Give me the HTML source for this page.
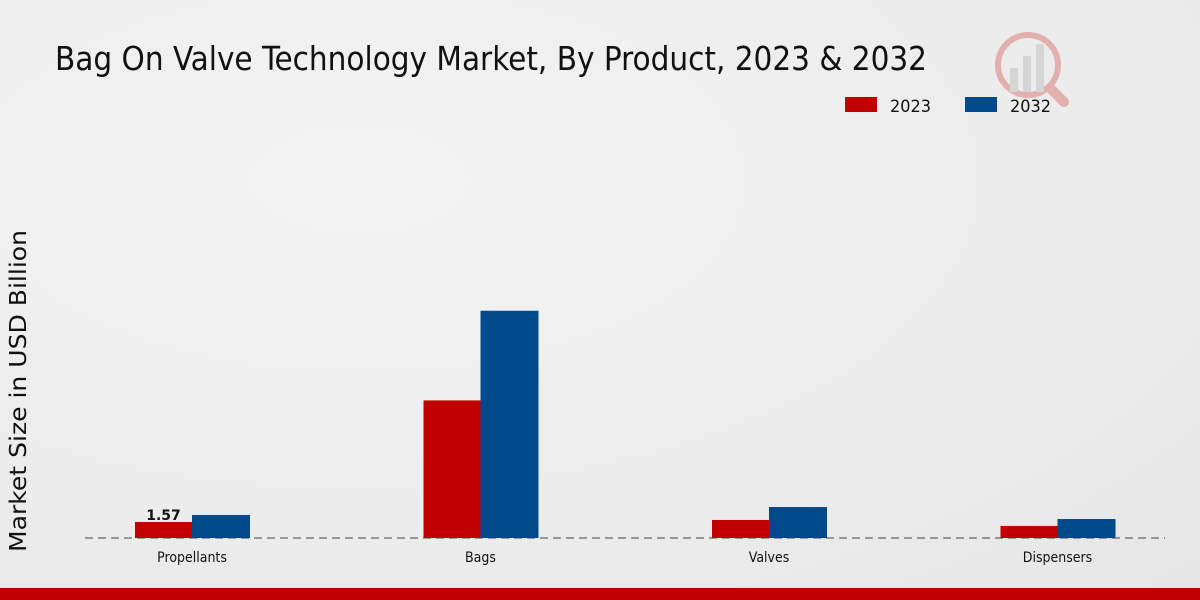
<!DOCTYPE html>
<html><head><meta charset="utf-8"><style>
body{margin:0;width:1200px;height:600px;overflow:hidden;font-family:"DejaVu Sans","Liberation Sans",sans-serif;}
#bg{position:absolute;left:0;top:0;width:1200px;height:600px;background:radial-gradient(ellipse at 30% 30%,#f4f4f4,#e6e6e6);}
</style></head><body>
<div id="bg"></div>
<svg id="c" width="1200" height="600" style="position:absolute;left:0;top:0">
<text x="55" y="70" font-size="33" font-family="'DejaVu Sans Condensed','Liberation Sans Narrow','Liberation Sans',sans-serif" fill="#111" textLength="872" lengthAdjust="spacingAndGlyphs">Bag On Valve Technology Market, By Product, 2023 &amp; 2032</text>
<g opacity="0.25">
<circle cx="1028" cy="65" r="30" fill="none" stroke="#c00" stroke-width="6"/>
<rect x="1010" y="68" width="8" height="24" fill="#999"/><rect x="1023" y="56" width="8" height="36" fill="#999"/><rect x="1036" y="44" width="8" height="48" fill="#999"/>
<line x1="1050" y1="88" x2="1064" y2="102" stroke="#c00" stroke-width="10" stroke-linecap="round"/>
</g>
<g>
<rect x="845" y="97" width="32" height="15" fill="#c00000"/>
<text x="890" y="112" font-size="17" fill="#111" textLength="41" lengthAdjust="spacingAndGlyphs">2023</text>
<rect x="965" y="97" width="32" height="15" fill="#004a8c"/>
<text x="1010" y="112" font-size="17" fill="#111" textLength="41" lengthAdjust="spacingAndGlyphs">2032</text>
</g>
<text transform="translate(26,391) rotate(-90)" text-anchor="middle" font-size="23" fill="#111" textLength="322" lengthAdjust="spacingAndGlyphs">Market Size in USD Billion</text>
<line x1="85" y1="538" x2="1165" y2="538" stroke="#444" stroke-dasharray="8,5"/>
<g id="bars"></g>
<rect x="0" y="588" width="1200" height="12" fill="#c00000"/>
</svg>
<script>
const categories=["Propellants","Bags","Valves","Dispensers"];
const values2023=[1.57,13.5,1.77,1.18];
const values2032=[2.26,22.3,3.04,1.86];
const labels2023=["1.57","","",""];
const NS="http://www.w3.org/2000/svg";
const g=document.getElementById("bars");
const base=538,pxPer=16/1.57,x0=192,step=288.5,bw=57;
const y=v=>base-v*pxPer;
const xc=i=>x0+i*step;
function mk(t,a){const e=document.createElementNS(NS,t);for(const k in a)e.setAttribute(k,a[k]);g.appendChild(e);return e;}
categories.forEach((c,i)=>{
 const r1=mk("rect",{x:xc(i)-bw,y:y(values2023[i]),width:bw,height:base-y(values2023[i]),fill:"#c00000"});
 
 
 const r2=mk("rect",{x:xc(i),y:y(values2032[i]),width:bw+1,height:base-y(values2032[i]),fill:"#004a8c"});
 
 
 const t=mk("text",{x:xc(i),y:562,"text-anchor":"middle","font-size":14,fill:"#111",transform:"translate("+xc(i)+",0) scale(0.9,1) translate("+(-xc(i))+",0)"});
 t.textContent=c;
 
 
 if(labels2023[i]){
  const l=mk("text",{x:xc(i)-bw/2,y:y(values2023[i])-2,"text-anchor":"middle","font-size":14,"font-weight":"bold",fill:"#111"});
  l.textContent=labels2023[i];
  
  
 }
});
</script>
</body></html>
